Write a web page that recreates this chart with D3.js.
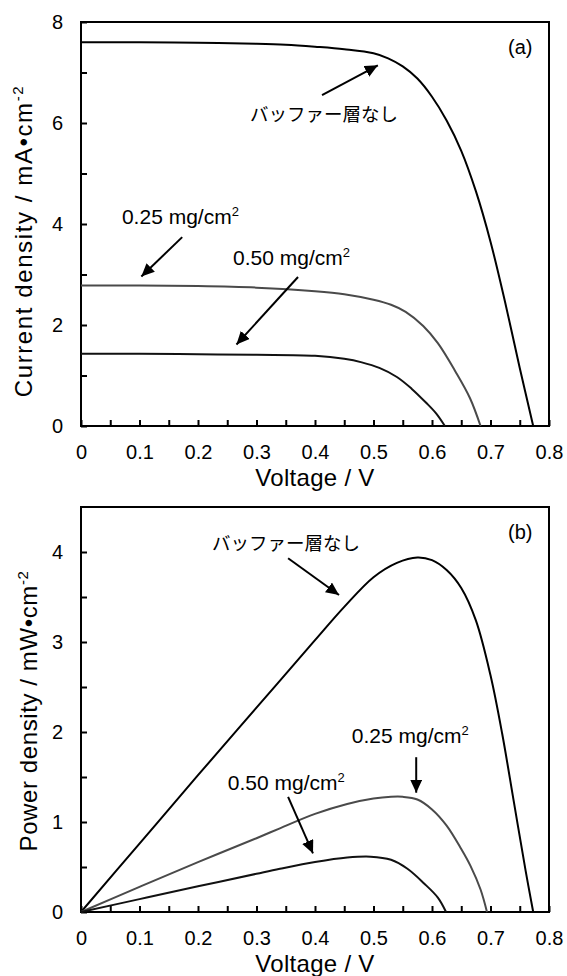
<!DOCTYPE html>
<html>
<head>
<meta charset="utf-8">
<script src="https://cdn.jsdelivr.net/npm/d3@7"></script>
<style>
  body { margin: 0; background: #fff; }
  svg { display: block; }
  text { font-family: "Liberation Sans", Arial, sans-serif; fill: #000; }
</style>
</head>
<body>
<svg id="chart" width="567" height="976"></svg>
<script>

// (a) current density vs voltage
var jvVoltNone = [0, 0.1, 0.2, 0.3, 0.35, 0.4, 0.45, 0.5, 0.525, 0.55, 0.575, 0.6, 0.625, 0.65, 0.675, 0.7, 0.725, 0.75, 0.773];
var jvCurrNone = [7.60, 7.60, 7.59, 7.57, 7.55, 7.51, 7.46, 7.38, 7.28, 7.12, 6.88, 6.52, 6.05, 5.45, 4.65, 3.65, 2.45, 1.15, 0];
var jvVolt025 = [0, 0.1, 0.2, 0.3, 0.4, 0.45, 0.5, 0.53, 0.555, 0.585, 0.61, 0.64, 0.665, 0.683];
var jvCurr025 = [2.78, 2.78, 2.77, 2.74, 2.67, 2.61, 2.50, 2.40, 2.26, 1.98, 1.64, 1.08, 0.55, 0];
var jvVolt050 = [0, 0.1, 0.2, 0.3, 0.4, 0.45, 0.48, 0.51, 0.54, 0.565, 0.59, 0.607, 0.622];
var jvCurr050 = [1.43, 1.43, 1.42, 1.41, 1.39, 1.33, 1.26, 1.15, 0.97, 0.74, 0.46, 0.25, 0];

// (b) power density vs voltage
var pvVoltNone = [0, 0.1, 0.2, 0.3, 0.4, 0.45, 0.5, 0.54, 0.575, 0.6, 0.625, 0.65, 0.675, 0.7, 0.72, 0.74, 0.76, 0.773];
var pvPowNone = [0, 0.76, 1.52, 2.27, 3.02, 3.39, 3.72, 3.88, 3.94, 3.91, 3.80, 3.60, 3.24, 2.63, 1.98, 1.22, 0.46, 0];
var pvVolt025 = [0, 0.1, 0.2, 0.3, 0.34, 0.4, 0.455, 0.5, 0.53, 0.55, 0.575, 0.6, 0.625, 0.65, 0.666, 0.683, 0.694];
var pvPow025 = [0, 0.28, 0.555, 0.82, 0.93, 1.09, 1.20, 1.26, 1.28, 1.28, 1.25, 1.14, 0.96, 0.70, 0.51, 0.25, 0];
var pvVolt050 = [0, 0.1, 0.2, 0.3, 0.34, 0.4, 0.455, 0.495, 0.53, 0.558, 0.586, 0.61, 0.624];
var pvPow050 = [0, 0.143, 0.285, 0.425, 0.48, 0.555, 0.605, 0.615, 0.58, 0.48, 0.32, 0.16, 0];

var xTicks = [0, 0.1, 0.2, 0.3, 0.4, 0.5, 0.6, 0.7, 0.8];
var xTickLabels = ["0", "0.1", "0.2", "0.3", "0.4", "0.5", "0.6", "0.7", "0.8"];
var xMinorTicks = [0.05, 0.15, 0.25, 0.35, 0.45, 0.55, 0.65, 0.75];
var jTicks = [0, 2, 4, 6, 8];
var jTickLabels = ["0", "2", "4", "6", "8"];
var jMinorTicks = [1, 3, 5, 7];
var pTicks = [0, 1, 2, 3, 4];
var pTickLabels = ["0", "1", "2", "3", "4"];
var pMinorTicks = [0.5, 1.5, 2.5, 3.5];

var noBufferLabel = "バッファー層なし";

var svg = d3.select('#chart');

svg.append('defs').append('marker')
  .attr('id', 'head')
  .attr('markerUnits', 'userSpaceOnUse')
  .attr('markerWidth', 14).attr('markerHeight', 12)
  .attr('refX', 13).attr('refY', 6)
  .attr('orient', 'auto')
  .append('path')
  .attr('d', 'M0,0 L13,6 L0,12 Z')
  .attr('fill', '#000');

var x = d3.scaleLinear().domain([0, 0.8]).range([81, 549]);

var zip = function(a, b){
  return a.map(function(v, i){ return [v, b[i]]; });
};

var tickFormatter = function(values, labels){
  return function(d){
    var i = values.indexOf(d);
    return i < 0 ? '' : labels[i];
  };
};

// text with a trailing superscript
var supText = function(g, px, py, main, sup, size, supSize){
  var t = g.append('text')
    .attr('x', px).attr('y', py)
    .style('font-size', size + 'px');
  t.append('tspan').text(main);
  t.append('tspan').attr('dy', -size * 0.38).style('font-size', supSize + 'px').text(sup);
  return t;
};

var arrow = function(g, y, a){
  var x1 = x(a[0]), y1 = y(a[1]), x2 = x(a[2]), y2 = y(a[3]);
  var len = Math.hypot(x2 - x1, y2 - y1);
  var k = (len - 5) / len;
  g.append('line')
    .attr('x1', x1).attr('y1', y1)
    .attr('x2', x1 + (x2 - x1) * k).attr('y2', y1 + (y2 - y1) * k)
    .attr('stroke', '#000').attr('stroke-width', 2)
    .attr('marker-end', 'url(#head)');
};

var drawPanel = function(cfg){
  var g = svg.append('g');
  var y = d3.scaleLinear().domain([0, cfg.yMax]).range([cfg.bottom, cfg.top]);

  var xa = g.append('g')
    .attr('transform', 'translate(0,' + cfg.bottom + ')')
    .call(d3.axisBottom(x)
      .tickValues(xTicks.concat(xMinorTicks))
      .tickFormat(tickFormatter(xTicks, xTickLabels))
      .tickSizeInner(-6).tickSizeOuter(0).tickPadding(19));
  var ya = g.append('g')
    .attr('transform', 'translate(81,0)')
    .call(d3.axisLeft(y)
      .tickValues(cfg.yTicks.concat(cfg.yMinor))
      .tickFormat(tickFormatter(cfg.yTicks, cfg.yTickLabels))
      .tickSizeInner(-6).tickSizeOuter(0).tickPadding(18));
  [xa, ya].forEach(function(a){
    a.select('.domain').remove();
    a.selectAll('line').attr('stroke', '#000').attr('stroke-width', 2);
    a.selectAll('text').style('font-size', '20px')
      .style('font-family', '"Liberation Sans", Arial, sans-serif');
  });

  g.append('rect')
    .attr('x', 81).attr('y', cfg.top)
    .attr('width', 468).attr('height', cfg.bottom - cfg.top)
    .attr('fill', 'none').attr('stroke', '#000').attr('stroke-width', 2);

  var line = d3.line()
    .x(function(d){ return x(d[0]); })
    .y(function(d){ return y(d[1]); })
    .curve(d3.curveCatmullRom.alpha(0.5));

  cfg.series.forEach(function(s){
    g.append('path')
      .attr('d', line(s.data))
      .attr('fill', 'none')
      .attr('stroke', s.color)
      .attr('stroke-width', 2)
      .attr('stroke-linejoin', 'round');
  });

  // axis titles
  g.append('text')
    .attr('x', x(0.4)).attr('y', cfg.bottom + 60)
    .attr('text-anchor', 'middle')
    .style('font-size', '24px')
    .style('letter-spacing', '0.3px')
    .text('Voltage / V');

  var yt = g.append('text')
    .attr('transform', 'translate(' + cfg.yTitleX + ',' + cfg.yTitleY + ') rotate(-90)')
    .attr('text-anchor', 'middle')
    .style('font-size', cfg.yTitleSize + 'px')
    .style('letter-spacing', cfg.yTitleSpacing + 'px');
  yt.append('tspan').text(cfg.yTitle);
  yt.append('tspan').attr('dy', -9).style('font-size', '15px').text('-2');

  // panel letter
  g.append('text')
    .attr('x', x(cfg.letterPos[0])).attr('y', y(cfg.letterPos[1]))
    .style('font-size', '20px')
    .text(cfg.letter);

  // annotations
  g.append('text')
    .attr('x', x(cfg.noBufPos[0])).attr('y', y(cfg.noBufPos[1]))
    .style('font-size', '18.5px')
    .style('font-family', '"Noto Sans CJK JP", sans-serif')
    .text(noBufferLabel);
  supText(g, x(cfg.pos025[0]), y(cfg.pos025[1]), '0.25 mg/cm', '2', 21, 13);
  supText(g, x(cfg.pos050[0]), y(cfg.pos050[1]), '0.50 mg/cm', '2', 21, 13);

  cfg.arrows.forEach(function(a){ arrow(g, y, a); });
};

drawPanel({
  top: 22, bottom: 426, yMax: 8,
  yTicks: jTicks, yTickLabels: jTickLabels, yMinor: jMinorTicks,
  yTitle: 'Current density / mA\u2022cm', yTitleX: 32, yTitleY: 241,
  yTitleSize: 24, yTitleSpacing: 1.6,
  letter: '(a)', letterPos: [0.73, 7.37],
  noBufPos: [0.289, 6.04], pos025: [0.07, 4.0], pos050: [0.26, 3.19],
  arrows: [
    [0.412, 6.55, 0.515, 7.19],
    [0.173, 3.74, 0.097, 2.89],
    [0.371, 2.95, 0.260, 1.54]
  ],
  series: [
    { data: zip(jvVoltNone, jvCurrNone), color: '#000' },
    { data: zip(jvVolt025, jvCurr025), color: '#4a4a4a' },
    { data: zip(jvVolt050, jvCurr050), color: '#111' }
  ]
});

drawPanel({
  top: 507, bottom: 912, yMax: 4.5,
  yTicks: pTicks, yTickLabels: pTickLabels, yMinor: pMinorTicks,
  yTitle: 'Power density / mW\u2022cm', yTitleX: 37, yTitleY: 711,
  yTitleSize: 24, yTitleSpacing: 0.6,
  letter: '(b)', letterPos: [0.73, 4.14],
  noBufPos: [0.224, 4.02], pos025: [0.463, 1.88], pos050: [0.251, 1.36],
  arrows: [
    [0.354, 3.93, 0.448, 3.49],
    [0.573, 1.72, 0.573, 1.27],
    [0.354, 1.28, 0.400, 0.60]
  ],
  series: [
    { data: zip(pvVoltNone, pvPowNone), color: '#000' },
    { data: zip(pvVolt025, pvPow025), color: '#4a4a4a' },
    { data: zip(pvVolt050, pvPow050), color: '#111' }
  ]
});
</script>
</body>
</html>
